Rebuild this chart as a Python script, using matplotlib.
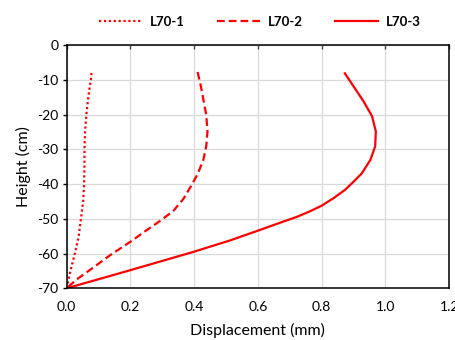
import matplotlib
matplotlib.use("Agg")
import matplotlib.pyplot as plt
from matplotlib.ticker import FuncFormatter

plt.rcParams['font.family'] = ['Lato', 'DejaVu Sans']

height1 = [-8, -10, -15, -20, -25, -30, -35, -40, -45, -50, -55, -60, -65, -70]
l70_1 = [0.078, 0.076, 0.068, 0.062, 0.058, 0.056, 0.056, 0.055, 0.052, 0.045, 0.038, 0.026, 0.012, 0.0]

height2 = [-7.7, -11.7, -15.6, -20, -24.8, -29.1, -33, -36.9, -40, -44.3, -47.7, -50.6, -53.9, -56.3, -60.5, -64, -67.5, -70]
l70_2 = [0.411, 0.421, 0.429, 0.438, 0.442, 0.438, 0.429, 0.412, 0.394, 0.366, 0.335, 0.293, 0.241, 0.205, 0.136, 0.084, 0.031, 0.0]

height3 = [-8.1, -11.7, -16.1, -20.4, -24.8, -29.1, -33, -36.9, -39.3, -41.6, -44.0, -46.2, -47.8, -49.4, -51.1, -53.4, -56.2, -59.5, -62.3, -64.8, -70]
l70_3 = [0.873, 0.899, 0.931, 0.958, 0.970, 0.968, 0.953, 0.926, 0.900, 0.874, 0.838, 0.800, 0.764, 0.723, 0.670, 0.600, 0.513, 0.398, 0.293, 0.199, 0.0]

x_ticks = [0.0, 0.2, 0.4, 0.6, 0.8, 1.0, 1.2]
y_ticks = [0, -10, -20, -30, -40, -50, -60, -70]

fig = plt.figure(figsize=(4.56, 3.4), dpi=100)
ax = fig.add_axes([0.146, 0.152, 0.839, 0.715])

red = '#ff0000'
ax.plot(l70_1, height1, color=red, lw=1.6, linestyle=(0, (1, 1.2)), label='L70-1',
        solid_joinstyle='round')
ax.plot(l70_2, height2, color=red, lw=1.6, linestyle=(0, (3.5, 1.8)), label='L70-2',
        solid_joinstyle='round')
ax.plot(l70_3, height3, color=red, lw=1.6, linestyle='-', label='L70-3',
        solid_joinstyle='round')

ax.set_xlim(0, 1.2)
ax.set_ylim(-70, 0)
ax.set_xticks(x_ticks)
ax.set_yticks(y_ticks)
ax.xaxis.set_major_formatter(FuncFormatter(lambda v, p: f"{v:.1f}"))
ax.yaxis.set_major_formatter(FuncFormatter(lambda v, p: f"{int(round(v))}"))

ax.grid(True, color='#d9d9d9', lw=0.9)
ax.set_axisbelow(True)
for s in ax.spines.values():
    s.set_color('black')
    s.set_linewidth(1.1)

ax.tick_params(axis='x', top=True, bottom=False, labeltop=False, labelbottom=True,
               direction='in', length=3, width=1, color='#404040', labelsize=10, pad=9)
ax.tick_params(axis='y', direction='out', length=3, width=1, labelsize=10, pad=3)

ax.set_xlabel('Displacement (mm)', fontsize=11.5, labelpad=7)
ax.set_ylabel('Height (cm)', fontsize=11.5, labelpad=4)

leg = fig.legend(loc='center', bbox_to_anchor=(0.57, 0.935), ncol=3, frameon=False,
                 prop={'weight': 'bold', 'size': 9.5}, handlelength=3.3, columnspacing=2.4,
                 handletextpad=0.6)

fig.savefig('out.png', dpi=100)
